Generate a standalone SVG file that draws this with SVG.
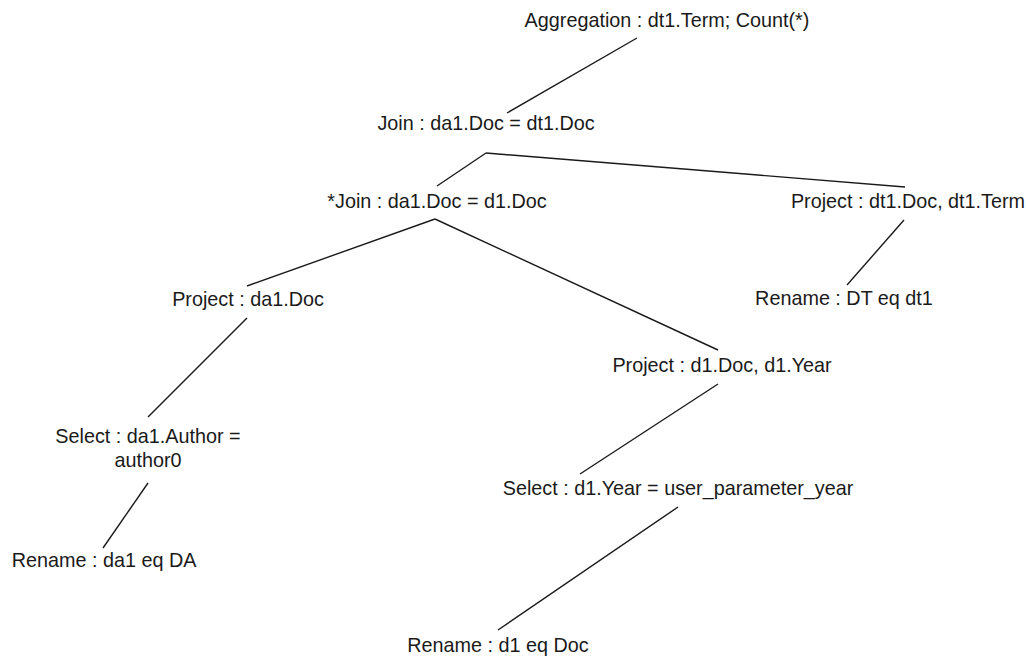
<svg xmlns="http://www.w3.org/2000/svg" width="1026" height="657" viewBox="0 0 1026 657">
  <style>
    text { font-family: "Liberation Sans", Arial, sans-serif; font-size: 19.8px; fill: #1a1a1a; text-anchor: middle; }
    .edge line { stroke: #1a1a1a; stroke-width: 1.4; fill: none; }
  </style>
  <rect width="1026" height="657" fill="#ffffff"/>

  <!-- tree edges (parent bottom to child top) -->
  <g id="edges" class="edge">
    <line x1="637" y1="38" x2="507" y2="113"/>
    <line x1="486" y1="153" x2="437" y2="186"/>
    <line x1="486" y1="153" x2="905" y2="187"/>
    <line x1="435" y1="219" x2="247" y2="286"/>
    <line x1="435" y1="219" x2="718" y2="350"/>
    <line x1="904" y1="220" x2="847" y2="285"/>
    <line x1="247" y1="318" x2="148" y2="417"/>
    <line x1="718" y1="384" x2="580" y2="474"/>
    <line x1="148" y1="483" x2="103" y2="548"/>
    <line x1="678" y1="507" x2="498" y2="630"/>
  </g>

  <g id="aggregation"><text x="667" y="27">Aggregation : dt1.Term; Count(*)</text></g>
  <g id="join-top"><text x="486" y="130">Join : da1.Doc = dt1.Doc</text></g>
  <g id="join-inner"><text x="437" y="208">*Join : da1.Doc = d1.Doc</text></g>
  <g id="project-dt1"><text x="908" y="208">Project : dt1.Doc, dt1.Term</text></g>
  <g id="rename-dt"><text x="844" y="305">Rename : DT eq dt1</text></g>
  <g id="project-da1"><text x="248" y="306">Project : da1.Doc</text></g>
  <g id="project-d1"><text x="722" y="372">Project : d1.Doc, d1.Year</text></g>
  <g id="select-da1">
    <text x="148" y="443">Select : da1.Author =</text>
    <text x="148" y="467">author0</text>
  </g>
  <g id="select-d1"><text x="678" y="495">Select : d1.Year = user_parameter_year</text></g>
  <g id="rename-da1"><text x="104" y="567">Rename : da1 eq DA</text></g>
  <g id="rename-d1"><text x="498" y="652">Rename : d1 eq Doc</text></g>
</svg>
